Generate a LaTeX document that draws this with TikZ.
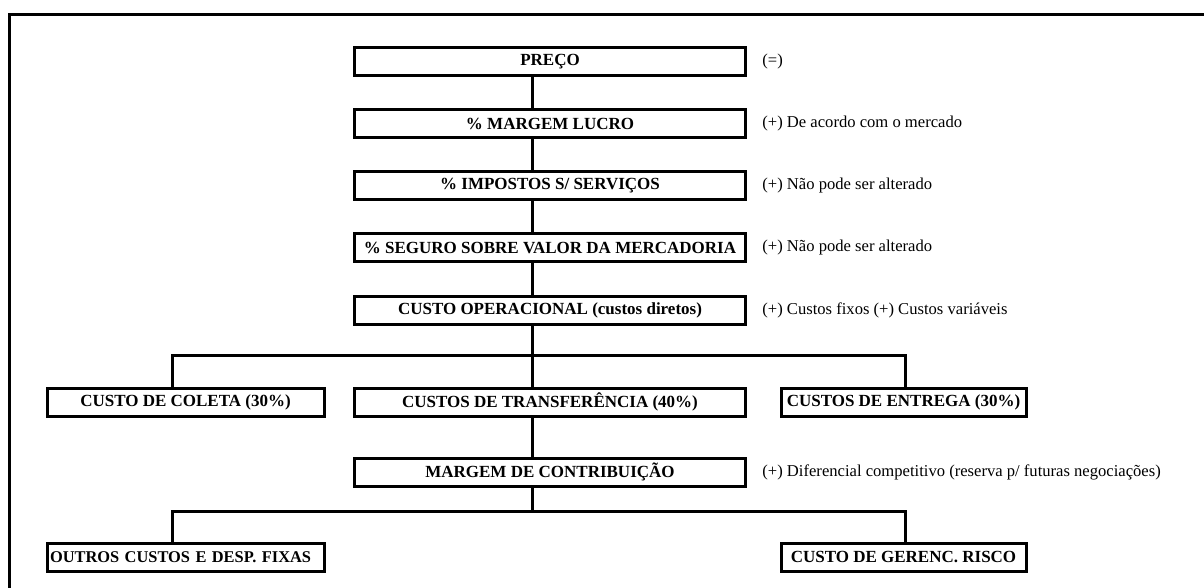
\documentclass[tikz,border=0pt]{standalone}
\usepackage{fontspec}
\setmainfont{Liberation Serif}
\usepackage{tikz}

\tikzset{
	box/.style={draw, line width=1.5pt, minimum height=14pt, inner sep=1.5pt, font=\bfseries\fontsize{8.5}{10}\selectfont},
	widebox/.style={box, minimum width=195.5pt},
	sidebox/.style={box, minimum width=138.5pt},
	endbox/.style={box, minimum width=122.5pt},
	note/.style={anchor=west, inner sep=0pt, font=\fontsize{8.3}{9.5}\selectfont},
	link/.style={line width=1.5pt}
}

\begin{document}
	\begin{tikzpicture}[x=0.5pt, y=-0.5pt]
		\useasboundingbox (0, 0) rectangle (1204, 588);

		\draw[link] (9, 588) -- (9, 15) -- (1204, 15);

		\coordinate (mid) at (532, 0);
		\coordinate (ldrop) at (172, 0);
		\coordinate (rdrop) at (905, 0);
		\coordinate (bus1) at (0, 355);
		\coordinate (bus2) at (0, 511);

		\node[widebox] (preco) at (550, 62) {PREÇO};
		\node[widebox] (lucro) at (550, 124) {\% MARGEM LUCRO};
		\node[widebox] (impostos) at (550, 186) {\% IMPOSTOS S/ SERVIÇOS};
		\node[widebox] (seguro) at (550, 248) {\% SEGURO SOBRE VALOR DA MERCADORIA};
		\node[widebox] (operac) at (550, 310) {CUSTO OPERACIONAL (custos diretos)};

		\node[sidebox] (coleta) at (185.5, 402) {CUSTO DE COLETA (30\%)};
		\node[widebox] (transf) at (550, 402) {CUSTOS DE TRANSFERÊNCIA (40\%)};
		\node[endbox] (entrega) at (903.5, 402) {CUSTOS DE ENTREGA (30\%)};

		\node[widebox] (contrib) at (550, 472) {MARGEM DE CONTRIBUIÇÃO};

		\node[box, text width=135.5pt, align=left, font=\bfseries\fontsize{8.2}{10}\selectfont] (outros) at (185.5, 557) {OUTROS CUSTOS E DESP. FIXAS};
		\node[endbox] (risco) at (903.5, 557) {CUSTO DE GERENC. RISCO};

		\node[note] (n1) at (762, 62) {(=)};
		\node[note] (n2) at (762, 124) {(+) De acordo com o mercado};
		\node[note] (n3) at (762, 186) {(+) Não pode ser alterado};
		\node[note] (n4) at (762, 248) {(+) Não pode ser alterado};
		\node[note] (n5) at (762, 310) {(+) Custos fixos (+) Custos variáveis};
		\node[note] (n6) at (762, 472) {(+) Diferencial competitivo (reserva p/ futuras negociações)};

		\foreach \a/\b in {preco/lucro, lucro/impostos, impostos/seguro, seguro/operac, transf/contrib}
			\draw[link] (\a.south -| mid) -- (\b.north -| mid);

		\draw[link] (operac.south -| mid) -- (transf.north -| mid);
		\draw[link] (coleta.north -| ldrop) -- (bus1 -| ldrop) -- (bus1 -| rdrop) -- (entrega.north -| rdrop);

		\draw[link] (contrib.south -| mid) -- (bus2 -| mid);
		\draw[link] (outros.north -| ldrop) -- (bus2 -| ldrop) -- (bus2 -| rdrop) -- (risco.north -| rdrop);
	\end{tikzpicture}
\end{document}
